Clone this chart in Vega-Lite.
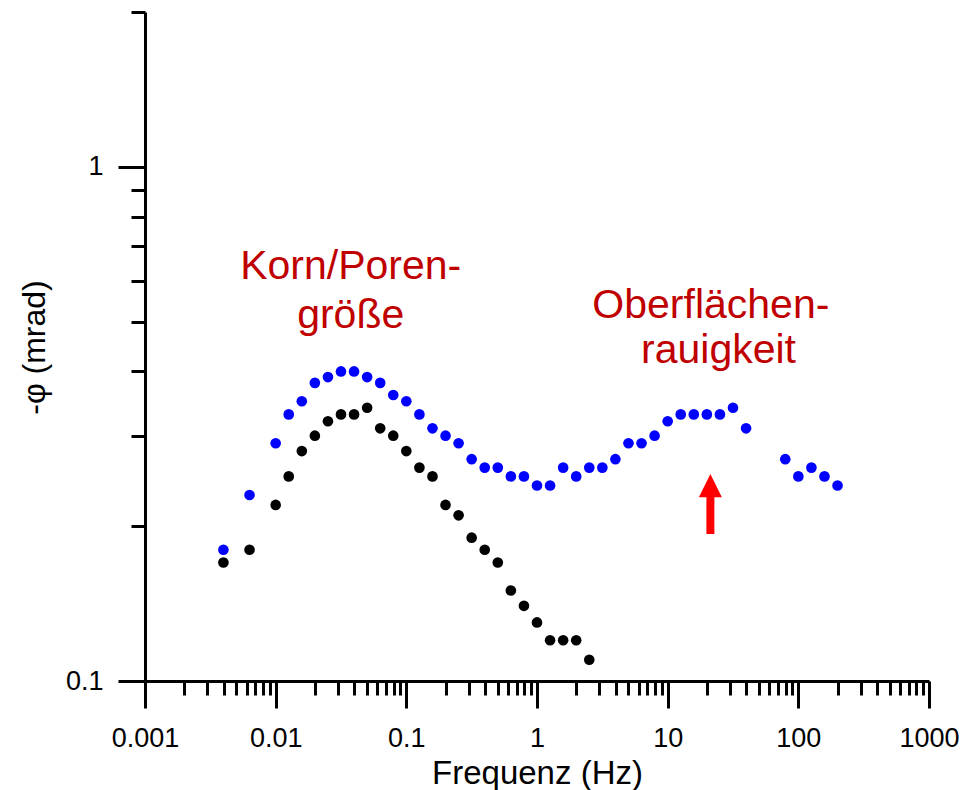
{
  "$schema": "https://vega.github.io/schema/vega-lite/v6.json",
  "width": 784,
  "height": 669,
  "autosize": {"type": "none"},
  "padding": {"left": 145, "top": 12, "right": 38, "bottom": 109},
  "config": {
    "view": {"stroke": null},
    "font": "Liberation Sans",
    "axis": {
      "grid": false,
      "domainColor": "#000000",
      "domainWidth": 3,
      "tickColor": "#000000",
      "tickWidth": 3,
      "labelColor": "#000000",
      "labelFont": "Liberation Sans",
      "labelFontSize": 27,
      "titleColor": "#000000",
      "titleFont": "Liberation Sans",
      "titleFontSize": 33,
      "titleFontWeight": "normal"
    }
  },
  "resolve": {"axis": {"x": "independent", "y": "independent"}},
  "layer": [
    {
      "data": {
        "values": [
          {"series": "Probe 1", "f": 0.003981, "v": 0.18},
          {"series": "Probe 1", "f": 0.00631, "v": 0.23},
          {"series": "Probe 1", "f": 0.01, "v": 0.29},
          {"series": "Probe 1", "f": 0.01259, "v": 0.33},
          {"series": "Probe 1", "f": 0.01585, "v": 0.35},
          {"series": "Probe 1", "f": 0.01995, "v": 0.38},
          {"series": "Probe 1", "f": 0.02512, "v": 0.39},
          {"series": "Probe 1", "f": 0.03162, "v": 0.40},
          {"series": "Probe 1", "f": 0.03981, "v": 0.40},
          {"series": "Probe 1", "f": 0.05012, "v": 0.39},
          {"series": "Probe 1", "f": 0.0631, "v": 0.38},
          {"series": "Probe 1", "f": 0.07943, "v": 0.36},
          {"series": "Probe 1", "f": 0.1, "v": 0.35},
          {"series": "Probe 1", "f": 0.1259, "v": 0.33},
          {"series": "Probe 1", "f": 0.1585, "v": 0.31},
          {"series": "Probe 1", "f": 0.1995, "v": 0.30},
          {"series": "Probe 1", "f": 0.2512, "v": 0.29},
          {"series": "Probe 1", "f": 0.3162, "v": 0.27},
          {"series": "Probe 1", "f": 0.3981, "v": 0.26},
          {"series": "Probe 1", "f": 0.5012, "v": 0.26},
          {"series": "Probe 1", "f": 0.631, "v": 0.25},
          {"series": "Probe 1", "f": 0.7943, "v": 0.25},
          {"series": "Probe 1", "f": 1, "v": 0.24},
          {"series": "Probe 1", "f": 1.259, "v": 0.24},
          {"series": "Probe 1", "f": 1.585, "v": 0.26},
          {"series": "Probe 1", "f": 1.995, "v": 0.25},
          {"series": "Probe 1", "f": 2.512, "v": 0.26},
          {"series": "Probe 1", "f": 3.162, "v": 0.26},
          {"series": "Probe 1", "f": 3.981, "v": 0.27},
          {"series": "Probe 1", "f": 5.012, "v": 0.29},
          {"series": "Probe 1", "f": 6.31, "v": 0.29},
          {"series": "Probe 1", "f": 7.943, "v": 0.30},
          {"series": "Probe 1", "f": 10, "v": 0.32},
          {"series": "Probe 1", "f": 12.59, "v": 0.33},
          {"series": "Probe 1", "f": 15.85, "v": 0.33},
          {"series": "Probe 1", "f": 19.95, "v": 0.33},
          {"series": "Probe 1", "f": 25.12, "v": 0.33},
          {"series": "Probe 1", "f": 31.62, "v": 0.34},
          {"series": "Probe 1", "f": 39.81, "v": 0.31},
          {"series": "Probe 1", "f": 79.43, "v": 0.27},
          {"series": "Probe 1", "f": 100, "v": 0.25},
          {"series": "Probe 1", "f": 125.9, "v": 0.26},
          {"series": "Probe 1", "f": 158.5, "v": 0.25},
          {"series": "Probe 1", "f": 199.5, "v": 0.24},
          {"series": "Probe 2", "f": 0.003981, "v": 0.17},
          {"series": "Probe 2", "f": 0.00631, "v": 0.18},
          {"series": "Probe 2", "f": 0.01, "v": 0.22},
          {"series": "Probe 2", "f": 0.01259, "v": 0.25},
          {"series": "Probe 2", "f": 0.01585, "v": 0.28},
          {"series": "Probe 2", "f": 0.01995, "v": 0.30},
          {"series": "Probe 2", "f": 0.02512, "v": 0.32},
          {"series": "Probe 2", "f": 0.03162, "v": 0.33},
          {"series": "Probe 2", "f": 0.03981, "v": 0.33},
          {"series": "Probe 2", "f": 0.05012, "v": 0.34},
          {"series": "Probe 2", "f": 0.0631, "v": 0.31},
          {"series": "Probe 2", "f": 0.07943, "v": 0.30},
          {"series": "Probe 2", "f": 0.1, "v": 0.28},
          {"series": "Probe 2", "f": 0.1259, "v": 0.26},
          {"series": "Probe 2", "f": 0.1585, "v": 0.25},
          {"series": "Probe 2", "f": 0.1995, "v": 0.22},
          {"series": "Probe 2", "f": 0.2512, "v": 0.21},
          {"series": "Probe 2", "f": 0.3162, "v": 0.19},
          {"series": "Probe 2", "f": 0.3981, "v": 0.18},
          {"series": "Probe 2", "f": 0.5012, "v": 0.17},
          {"series": "Probe 2", "f": 0.631, "v": 0.15},
          {"series": "Probe 2", "f": 0.7943, "v": 0.14},
          {"series": "Probe 2", "f": 1, "v": 0.13},
          {"series": "Probe 2", "f": 1.259, "v": 0.12},
          {"series": "Probe 2", "f": 1.585, "v": 0.12},
          {"series": "Probe 2", "f": 1.995, "v": 0.12},
          {"series": "Probe 2", "f": 2.512, "v": 0.11}
        ]
      },
      "mark": {"type": "point", "filled": true, "shape": "circle", "size": 113, "opacity": 1, "strokeWidth": 0},
      "encoding": {
        "x": {
          "field": "f", "type": "quantitative",
          "scale": {"type": "log", "domain": [0.001, 1000], "nice": false},
          "axis": {
            "orient": "bottom",
            "title": "Frequenz (Hz)",
            "values": [0.001, 0.01, 0.1, 1, 10, 100, 1000],
            "labelExpr": "datum.value < 0.0099 ? '0.001' : datum.value < 0.099 ? '0.01' : datum.value < 0.99 ? '0.1' : format(datum.value, 'd')",
            "tickSize": 27,
            "labelPadding": 38,
            "labelBaseline": "alphabetic",
            "labelFlush": false,
            "labelOverlap": false,
            "titleX": 392,
            "titleY": 102,
            "titleAlign": "center",
            "titleBaseline": "alphabetic"
          }
        },
        "y": {
          "field": "v", "type": "quantitative",
          "scale": {"type": "log", "domain": [0.1, 2], "nice": false},
          "axis": {
            "orient": "left",
            "title": "-φ (mrad)",
            "values": [0.1, 1],
            "labelExpr": "datum.value < 0.5 ? '0.1' : '1'",
            "tickSize": 27,
            "labelPadding": 15,
            "labelFlush": false,
            "labelOverlap": false,
            "titleFontSize": 32,
            "titleAngle": 270,
            "titleX": -101,
            "titleY": 335,
            "titleAlign": "center",
            "titleBaseline": "alphabetic"
          }
        },
        "color": {
          "field": "series", "type": "nominal",
          "scale": {"domain": ["Probe 1", "Probe 2"], "range": ["#0000ff", "#000000"]},
          "legend": null
        }
      }
    },
    {
      "data": {
        "values": [
          {"f": 0.0375, "v": 0.6046, "label": "Korn/Poren-"},
          {"f": 0.0375, "v": 0.4862, "label": "größe"},
          {"f": 21.4, "v": 0.5077, "label": "Oberflächen-"},
          {"f": 24.5, "v": 0.4151, "label": "rauigkeit"}
        ]
      },
      "mark": {"type": "text", "align": "center", "baseline": "alphabetic", "font": "Liberation Sans", "fontSize": 41, "color": "#c00000"},
      "encoding": {
        "text": {"field": "label"},
        "x": {
          "field": "f", "type": "quantitative",
          "scale": {"type": "log", "domain": [0.001, 1000], "nice": false},
          "axis": {
            "orient": "bottom",
            "title": null,
            "domain": false,
            "labels": false,
            "tickSize": 14,
            "values": [0.002, 0.003, 0.004, 0.005, 0.006, 0.007, 0.008, 0.009,
                       0.02, 0.03, 0.04, 0.05, 0.06, 0.07, 0.08, 0.09,
                       0.2, 0.3, 0.4, 0.5, 0.6, 0.7, 0.8, 0.9,
                       2, 3, 4, 5, 6, 7, 8, 9,
                       20, 30, 40, 50, 60, 70, 80, 90,
                       200, 300, 400, 500, 600, 700, 800, 900]
          }
        },
        "y": {
          "field": "v", "type": "quantitative",
          "scale": {"type": "log", "domain": [0.1, 2], "nice": false},
          "axis": {
            "orient": "left",
            "title": null,
            "domain": false,
            "labels": false,
            "tickSize": 14,
            "values": [0.2, 0.3, 0.4, 0.5, 0.6, 0.7, 0.8, 0.9, 2]
          }
        }
      }
    },
    {
      "data": {"values": [{"f": 21.23, "v": 0.221}]},
      "mark": {
        "type": "point",
        "filled": true,
        "shape": "M0,-1L0.383,-0.223L0.133,-0.223L0.133,1L-0.133,1L-0.133,-0.223L-0.383,-0.223Z",
        "size": 3600,
        "color": "#ff0000",
        "opacity": 1,
        "strokeWidth": 0
      },
      "encoding": {
        "x": {"field": "f", "type": "quantitative", "axis": null},
        "y": {"field": "v", "type": "quantitative", "axis": null}
      }
    }
  ]
}
